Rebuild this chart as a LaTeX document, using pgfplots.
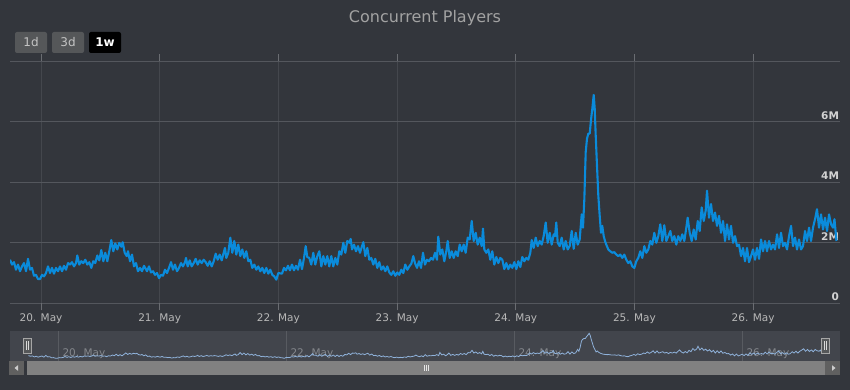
\documentclass[border=0pt]{standalone}
\usepackage{pgfplots}
\pgfplotsset{compat=1.18}
\usepackage{pgfplotstable}
\usepackage{fontspec}
\setmainfont{DejaVu Sans}
\definecolor{bg}{HTML}{33363C}
\definecolor{hgrid}{HTML}{54575D}
\definecolor{vgrid}{HTML}{44474D}
\definecolor{tickcol}{HTML}{6A6D72}
\definecolor{xlab}{HTML}{B8B8B8}
\definecolor{ylab}{HTML}{D2D2D2}
\definecolor{titlecol}{HTML}{A2A2A2}
\definecolor{series}{HTML}{0A8BDB}
\definecolor{navbg}{HTML}{42454C}
\definecolor{navgrid}{HTML}{585B61}
\definecolor{navlab}{HTML}{85888D}
\definecolor{navline}{HTML}{8FB2DA}
\definecolor{btn}{HTML}{555759}
\definecolor{btntext}{HTML}{C4C4C4}
\definecolor{sbtn}{HTML}{606060}
\definecolor{sbar}{HTML}{818181}

\pgfplotstableread{
h v
-6.27 1.44
-5.86 1.28
-5.46 1.36
-5.06 1.11
-4.65 1.28
-4.25 1.06
-3.84 1.22
-3.44 1.33
-3.03 1.06
-2.63 1.47
-2.22 1.11
-1.82 1.17
-1.42 0.91
-1.01 0.94
-0.61 0.80
-0.20 0.80
0.20 0.94
0.61 0.89
1.01 1.00
1.42 1.22
1.82 1.00
2.22 1.17
2.63 0.98
3.03 1.17
3.44 1.06
3.84 1.22
4.25 1.06
4.65 1.24
5.06 1.11
5.46 1.33
5.86 1.28
6.27 1.36
6.67 1.22
7.08 1.33
7.34 1.58
7.74 1.28
8.15 1.39
8.55 1.33
8.96 1.44
9.36 1.28
9.77 1.36
10.17 1.17
10.57 1.39
10.98 1.33
11.38 1.58
11.79 1.42
12.19 1.76
12.60 1.39
13.00 1.67
13.41 1.39
13.81 1.72
14.21 2.09
14.62 1.72
15.02 1.98
15.43 1.78
15.83 2.00
16.24 1.87
16.52 2.02
16.92 1.67
17.33 1.56
17.59 1.72
18.00 1.39
18.40 1.61
18.80 1.22
19.21 1.33
19.61 1.06
20.02 1.17
20.42 1.06
20.83 1.24
21.43 1.06
21.84 1.22
22.24 1.02
22.65 1.06
23.05 0.94
23.46 1.00
23.86 0.83
24.26 0.94
24.67 0.91
25.07 1.11
25.48 1.00
25.88 1.17
26.29 1.36
26.69 1.11
27.09 1.28
27.50 1.06
27.90 1.17
28.31 1.33
28.71 1.22
29.12 1.36
29.32 1.50
29.66 1.22
30.07 1.42
30.47 1.22
30.88 1.33
31.28 1.47
31.68 1.28
32.09 1.42
32.49 1.33
32.90 1.44
33.30 1.36
33.71 1.24
34.11 1.39
34.52 1.22
34.92 1.39
35.32 1.64
35.73 1.44
36.13 1.61
36.54 1.42
36.94 1.67
37.20 1.83
37.47 1.50
37.87 1.67
38.28 2.17
38.68 1.67
39.08 2.06
39.49 1.61
39.89 1.94
40.30 1.56
40.70 1.78
41.11 1.50
41.51 1.72
41.92 1.39
42.32 1.44
42.72 1.17
43.13 1.28
43.53 1.11
43.94 1.22
44.34 1.06
44.75 1.17
45.15 1.00
45.56 1.17
45.96 0.98
46.36 1.11
46.77 0.94
47.17 0.89
47.58 0.78
47.98 1.00
48.73 0.98
49.13 1.17
49.53 1.09
49.94 1.24
50.34 1.09
50.75 1.28
51.15 1.09
51.56 1.24
51.96 1.11
52.37 1.44
52.77 1.13
53.18 1.50
53.52 1.89
53.84 1.53
54.25 1.50
54.65 1.28
55.06 1.67
55.46 1.28
55.87 1.56
56.27 1.72
56.68 1.22
57.08 1.56
57.49 1.28
57.89 1.56
58.29 1.22
58.70 1.56
59.10 1.22
59.51 1.50
59.91 1.28
60.32 1.72
60.72 1.61
61.13 2.00
61.53 1.67
61.93 2.06
62.34 2.00
62.62 2.13
62.88 1.78
63.29 1.94
63.69 1.72
64.10 1.89
64.50 1.67
64.91 1.89
65.17 2.02
65.57 1.56
65.98 1.83
66.38 1.44
66.79 1.50
67.19 1.28
67.59 1.47
68.00 1.17
68.40 1.36
68.81 1.11
69.21 1.22
69.62 1.06
70.02 1.22
70.43 1.02
70.83 0.94
71.24 1.06
71.64 0.91
72.04 1.02
72.45 0.94
72.85 1.11
73.26 1.00
73.66 1.28
74.07 1.11
74.47 1.22
74.88 1.31
75.28 1.56
75.62 1.33
76.03 1.17
76.43 1.39
76.84 1.17
77.24 1.67
77.64 1.28
78.05 1.44
78.45 1.39
78.86 1.50
79.26 1.44
79.67 1.67
80.07 1.44
80.33 2.20
80.74 1.61
81.14 1.78
81.55 1.39
81.95 1.72
82.23 2.06
82.64 1.50
83.04 1.72
83.45 1.50
83.85 1.72
84.26 1.56
84.66 1.94
85.07 1.72
85.47 1.94
85.87 1.67
86.28 2.17
86.68 2.11
87.09 2.72
87.49 2.06
87.90 2.33
88.30 1.94
88.71 2.17
89.11 1.89
89.37 2.47
89.64 1.78
90.04 1.67
90.44 1.78
90.85 1.44
91.25 1.72
91.66 1.28
92.06 1.53
92.47 1.33
92.87 1.50
93.28 1.44
93.68 1.13
94.08 1.33
94.49 1.13
94.89 1.28
95.30 1.17
95.70 1.36
96.11 1.13
96.51 1.39
96.92 1.20
97.32 1.53
97.72 1.39
98.13 1.50
98.53 1.44
98.94 1.67
99.22 2.09
99.62 1.83
100.03 2.17
100.43 1.89
100.84 2.06
101.24 1.94
101.64 2.22
102.05 2.67
102.45 2.00
102.86 2.33
103.26 1.94
103.67 2.28
103.93 2.22
104.19 2.67
104.48 2.00
104.88 1.89
105.28 2.17
105.69 1.78
106.09 2.06
106.50 1.78
106.90 1.89
107.31 2.39
107.71 1.80
108.12 2.33
108.52 1.94
108.92 2.11
109.33 2.94
109.59 2.50
109.86 3.44
110.14 5.00
110.40 5.44
110.67 5.61
110.95 5.61
111.21 6.06
111.48 6.44
111.76 6.89
111.96 6.44
112.16 5.56
112.42 4.56
112.69 3.56
112.97 2.89
113.23 2.33
113.49 2.56
113.78 2.22
114.04 2.06
114.30 1.94
114.71 1.78
115.11 1.72
115.52 1.67
115.92 1.69
116.33 1.61
116.73 1.56
117.14 1.61
117.54 1.50
117.94 1.61
118.35 1.44
118.75 1.33
119.16 1.39
119.56 1.22
119.97 1.17
120.37 1.39
120.77 1.50
121.18 1.72
121.58 1.50
121.99 1.89
122.39 1.67
122.80 1.78
123.20 2.06
123.61 1.94
124.01 2.33
124.41 2.00
124.82 2.22
125.22 2.61
125.63 2.06
126.03 2.58
126.44 2.06
126.84 2.22
127.25 2.39
127.65 2.06
128.05 2.22
128.46 1.94
128.86 2.22
129.27 2.06
129.67 2.28
130.08 2.06
130.48 2.50
130.76 2.83
131.17 2.33
131.57 2.06
131.98 2.44
132.38 2.11
132.79 2.72
133.19 2.39
133.59 3.17
134.00 2.72
134.40 3.06
134.67 3.72
135.07 2.83
135.48 3.28
135.88 2.72
136.29 3.00
136.69 2.56
137.10 2.89
137.50 2.33
137.91 2.72
138.31 2.06
138.71 2.61
139.12 2.11
139.52 2.56
139.93 2.00
140.33 2.22
140.74 1.89
141.14 1.94
141.55 1.56
141.95 1.83
142.35 1.39
142.76 1.83
143.16 1.36
143.57 1.56
143.97 1.78
144.38 1.44
144.78 1.83
145.19 1.47
145.59 2.11
145.99 1.72
146.40 2.06
146.80 1.72
147.21 2.06
147.61 1.78
148.02 1.94
148.42 1.78
148.83 2.28
149.23 1.83
149.63 2.33
150.04 1.89
150.44 2.00
150.85 1.78
151.25 2.22
151.66 2.56
152.06 1.89
152.47 2.17
152.87 1.78
153.27 2.11
153.68 1.78
154.08 1.89
154.49 2.39
154.89 2.06
155.30 2.50
155.70 2.06
156.10 2.50
156.51 2.78
156.91 3.11
157.32 2.50
157.72 2.94
158.13 2.44
158.53 2.83
158.94 2.39
159.34 2.94
159.75 2.61
160.15 2.50
160.44 2.78
160.84 2.06
}\players

\begin{document}
\begin{tikzpicture}
\useasboundingbox (0pt,0pt) rectangle (850pt,390pt);
\fill[bg] (0pt,0pt) rectangle (850pt,390pt);
% title
\node[text=titlecol, font=\fontsize{16}{16}\selectfont] at (425pt,372pt) {Concurrent Players};
% range buttons
\fill[btn, rounded corners=2pt] (15pt,337pt) rectangle (47pt,358pt);
\fill[btn, rounded corners=2pt] (52pt,337pt) rectangle (84pt,358pt);
\fill[black, rounded corners=2pt] (89pt,337pt) rectangle (121pt,358pt);
\node[text=btntext, font=\fontsize{12}{12}\selectfont] at (31pt,347.5pt) {1d};
\node[text=btntext, font=\fontsize{12}{12}\selectfont] at (68pt,347.5pt) {3d};
\node[text=white, font=\bfseries\fontsize{12}{12}\selectfont] at (105pt,347.5pt) {1w};

% main chart
\begin{axis}[
  at={(10pt,86.7pt)}, anchor=south west, scale only axis,
  width=830pt, height=242pt,
  xmin=-6.27, xmax=161.56, ymin=0, ymax=8,
  axis line style={draw=none},
  xtick={0,24,48,72,96,120,144},
  xticklabels={20. May,21. May,22. May,23. May,24. May,25. May,26. May},
  ytick={0,2,4,6,8},
  yticklabels={0,2M,4M,6M,},
  yticklabel pos=right,
  xmajorgrids, ymajorgrids,
  x grid style={vgrid, line width=1pt},
  y grid style={hgrid, line width=1pt},
  tick align=outside,
  major tick length=7pt,
  xtick style={draw=tickcol, line width=1pt},
  ytick style={draw=none},
  xticklabel style={font=\fontsize{10.5}{10.5}\selectfont, text=xlab},
  yticklabel style={font=\bfseries\fontsize{10.5}{10.5}\selectfont, text=ylab, anchor=base east, xshift=-4.5pt, yshift=2.5pt},
]
\addplot[no markers, line width=2.1pt, color=series, line join=round] table[x=h,y=v]{\players};
\end{axis}

% navigator
\begin{axis}[
  at={(10pt,29.3pt)}, anchor=south west, scale only axis,
  width=830pt, height=29.4pt,
  xmin=-10.17, xmax=164.57, ymin=0.19, ymax=7.38,
  axis line style={draw=none},
  axis background/.style={fill=navbg},
  xtick={0,48,96,144},
  xticklabels={20. May,22. May,24. May,26. May},
  ytick=\empty,
  xmajorgrids, x grid style={navgrid, line width=1pt},
  major tick length=0pt,
  xtick style={draw=none},
  xticklabel style={anchor=base west, font=\fontsize{10.5}{10.5}\selectfont, text=navlab, yshift=4pt, xshift=0.7pt},
]
\addplot[no markers, line width=0.8pt, color=navline] table[x=h,y=v]{\players};
\end{axis}

% navigator handles
\foreach \hx in {23.3,821}{
  \filldraw[fill=btn, draw=black!35!white, line width=0.8pt] (\hx pt,37pt) rectangle ++(8.4pt,15pt);
  \draw[white!85!black, line width=0.8pt] (\hx pt+3.2pt,40pt) -- ++(0pt,9pt) (\hx pt+5.2pt,40pt) -- ++(0pt,9pt);
}
% scrollbar
\fill[sbtn] (9pt,15pt) rectangle (24pt,29pt);
\fill[sbar] (27.3pt,15pt) rectangle (825pt,29pt);
\fill[sbtn] (825pt,15pt) rectangle (840pt,29pt);
\fill[white!80!black] (14.5pt,22pt) -- (18pt,24.8pt) -- (18pt,19.2pt) -- cycle;
\fill[white!80!black] (835.5pt,22pt) -- (832pt,24.8pt) -- (832pt,19.2pt) -- cycle;
\draw[white!90!black, line width=0.8pt] (424pt,19pt) -- (424pt,25pt) (426pt,19pt) -- (426pt,25pt) (428pt,19pt) -- (428pt,25pt);
\end{tikzpicture}
\end{document}
